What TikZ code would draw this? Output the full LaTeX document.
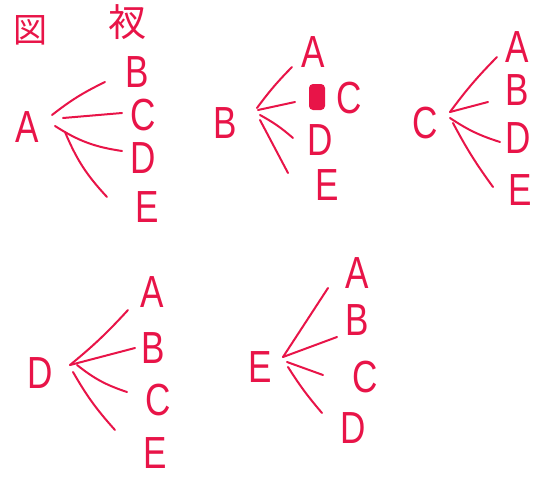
\documentclass[tikz,border=0pt]{standalone}
\usepackage{fontspec}
\usepackage{tikz}
\usetikzlibrary{calc}
\newfontfamily\handfont[FakeStretch=0.78]{Liberation Sans}
\newfontfamily\cjk{Noto Sans CJK JP}
\definecolor{ink}{RGB}{232,20,72}

\begin{document}
\begin{tikzpicture}[x=1pt,y=1pt]
    % `letter' is used for every A..E label.
    % `branch' is used for the hand drawn strokes.
    % `blot' is the scribbled-out mark in the B tree.
    \tikzstyle{letter} = [text=ink,font=\handfont\fontsize{45}{45}\selectfont,inner sep=0pt]
    \tikzstyle{branch} = [draw=ink,line width=2pt,line cap=round]
    \tikzstyle{blot} = [fill=ink,rounded corners=4pt,minimum width=16pt,minimum height=26pt,inner sep=0pt]
    \useasboundingbox (0,0) rectangle (539,-477);
    %
    \node[text=ink,font=\cjk\fontsize{34}{34}\selectfont] (title1) at (30,-30) {図};
    \node[text=ink,font=\cjk\fontsize{38}{38}\selectfont] (title2) at (127,-22) {衩};
    %
    % tree A
    \node[letter] (rA) at (27,-127) {A};
    \node[letter] (aB) at (137,-72) {B};
    \node[letter] (aC) at (143,-115) {C};
    \node[letter] (aD) at (143,-158) {D};
    \node[letter] (aE) at (147,-207) {E};
    % tree B
    \node[letter] (rB) at (225,-123) {B};
    \node[letter] (bA) at (313,-52) {A};
    \node[blot] (bX) at (317,-97) {};
    \node[letter] (bC) at (349,-98) {C};
    \node[letter] (bD) at (320,-140) {D};
    \node[letter] (bE) at (327,-185) {E};
    % tree C
    \node[letter] (rC) at (425,-123) {C};
    \node[letter] (cA) at (517,-47) {A};
    \node[letter] (cB) at (517,-90) {B};
    \node[letter] (cD) at (518,-138) {D};
    \node[letter] (cE) at (520,-190) {E};
    % tree D
    \node[letter] (rD) at (40,-373) {D};
    \node[letter] (dA) at (152,-292) {A};
    \node[letter] (dB) at (153,-348) {B};
    \node[letter] (dC) at (158,-400) {C};
    \node[letter] (dE) at (155,-453) {E};
    % tree E
    \node[letter] (rE) at (260,-367) {E};
    \node[letter] (eA) at (357,-273) {A};
    \node[letter] (eB) at (357,-320) {B};
    \node[letter] (eC) at (365,-377) {C};
    \node[letter] (eD) at (353,-428) {D};
    %
    % Draw branches.
    \draw[branch] ([shift={(25,12)}]rA.center) to[bend left=6] ([shift={(-32,-10)}]aB.center);
    \draw[branch] ([shift={(36,9)}]rA.center) to ([shift={(-21,2)}]aC.center);
    \draw[branch] ([shift={(28,1)}]rA.center) to[bend right=12] ([shift={(-21,7)}]aD.center);
    \draw[branch] ([shift={(38,-5)}]rA.center) to[bend right=10] ([shift={(-40,10)}]aE.center);
    %
    \draw[branch] ([shift={(32,15)}]rB.center) to[bend left=4] ([shift={(-21,-15)}]bA.center);
    \draw[branch] ([shift={(33,13)}]rB.center) to ([shift={(-54,-4)}]bC.center);
    \draw[branch] ([shift={(35,8)}]rB.center) to[bend left=6] ([shift={(-27,2)}]bD.center);
    \draw[branch] ([shift={(35,3)}]rB.center) to ([shift={(-39,12)}]bE.center);
    %
    \draw[branch] ([shift={(25,11)}]rC.center) to[bend left=4] ([shift={(-20,-10)}]cA.center);
    \draw[branch] ([shift={(25,11)}]rC.center) to ([shift={(-29,-12)}]cB.center);
    \draw[branch] ([shift={(25,5)}]rC.center) to[bend right=8] ([shift={(-18,-4)}]cD.center);
    \draw[branch] ([shift={(28,0)}]rC.center) to[bend right=4] ([shift={(-27,3)}]cE.center);
    %
    \draw[branch] ([shift={(30,8)}]rD.center) to[bend right=4] ([shift={(-24,-18)}]dA.center);
    \draw[branch] ([shift={(30,8)}]rD.center) to ([shift={(-18,0)}]dB.center);
    \draw[branch] ([shift={(37,8)}]rD.center) to[bend right=10] ([shift={(-31,8)}]dC.center);
    \draw[branch] ([shift={(33,1)}]rD.center) to[bend right=6] ([shift={(-40,23)}]dE.center);
    %
    \draw[branch] ([shift={(23,10)}]rE.center) to ([shift={(-29,-15)}]eA.center);
    \draw[branch] ([shift={(23,10)}]rE.center) to ([shift={(-20,-17)}]eB.center);
    \draw[branch] ([shift={(27,5)}]rE.center) to ([shift={(-42,2)}]eC.center);
    \draw[branch] ([shift={(28,0)}]rE.center) to[bend right=4] ([shift={(-31,15)}]eD.center);
\end{tikzpicture}
\end{document}
